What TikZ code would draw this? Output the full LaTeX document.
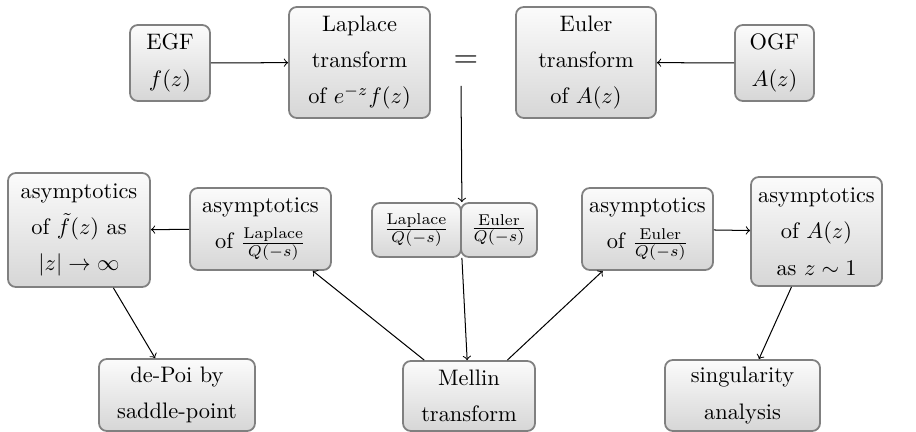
\documentclass[tikz,border=0pt]{standalone}
\begin{document}
\begin{tikzpicture}[x=0.4464pt, y=-0.4464pt,
  gbox/.style 2 args={draw=gray, line width=0.8pt, rounded corners=3.5pt,
    top color=gray!3, bottom color=gray!32, inner sep=0pt, align=center,
    minimum width=#1*0.4464pt, minimum height=#2*0.4464pt,
    font=\linespread{1.35}\selectfont},
  arr/.style={->, line width=0.45pt, black}]
\useasboundingbox (0,0) rectangle (916,432);
\node[gbox={80}{76}] (egf) at (170,63) {EGF\\$f(z)$};
\node[gbox={141}{111}] (lap) at (359.5,62.5) {Laplace\\transform\\of $e^{-z}f(z)$};
\node[font=\Large, inner sep=0pt] (eq) at (466,62) {$=$};
\node[gbox={140}{111}] (eul) at (586,62.5) {Euler\\transform\\of $A(z)$};
\node[gbox={79}{76}] (ogf) at (774.5,63) {OGF\\$A(z)$};
\node[gbox={89}{54}] (lq) at (416.5,230) {$\frac{\mathrm{Laplace}}{Q(-s)}$};
\node[gbox={76}{54}] (eq2) at (499,230) {$\frac{\mathrm{Euler}}{Q(-s)}$};
\node[gbox={141}{82}] (alap) at (260.5,229) {asymptotics\\of $\frac{\mathrm{Laplace}}{Q(-s)}$};
\node[gbox={142}{114}] (af) at (79,230) {asymptotics\\of $\tilde{f}(z)$ as\\$|z|\to\infty$};
\node[gbox={131}{82}] (aeul) at (647.5,229) {asymptotics\\of $\frac{\mathrm{Euler}}{Q(-s)}$};
\node[gbox={131}{109}] (aa) at (816.5,231.5) {asymptotics\\of $A(z)$\\as $z\sim 1$};
\node[gbox={156}{72}] (poi) at (177,395) {de-Poi by\\saddle-point};
\node[gbox={132}{70}] (mel) at (469,396) {Mellin\\transform};
\node[gbox={155}{71}] (sing) at (742.5,395.5) {singularity\\analysis};
\coordinate (eqb) at (461,86);
\draw[arr] (egf) -- (lap);
\draw[arr] (ogf) -- (eul);
\draw[arr] (eqb) -- (lq.north east);
\draw[arr] (lq.south east) -- (mel);
\draw[arr] (mel) -- (alap);
\draw[arr] (mel) -- (aeul);
\draw[arr] (alap) -- (af);
\draw[arr] (aeul) -- (aa);
\draw[arr] (af) -- (poi);
\draw[arr] (aa) -- (sing);
\end{tikzpicture}
\end{document}
